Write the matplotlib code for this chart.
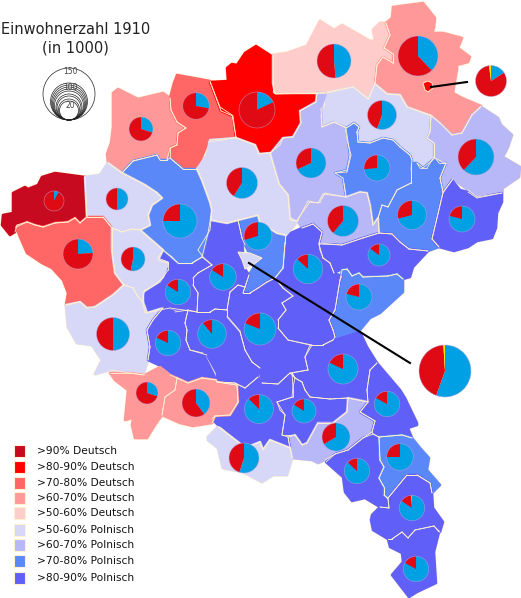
import matplotlib
matplotlib.use('Agg')
import matplotlib.pyplot as plt
from matplotlib.path import Path
from matplotlib.patches import Polygon, Circle, Rectangle

# map colours, one per share class
C90D = '#c80a20'
C80D = '#ff0000'
C70D = '#ff6666'
C60D = '#ff9999'
C50D = '#ffcccc'
C50P = '#d7d7f7'
C60P = '#b8b8f8'
C70P = '#5b88f8'
C80P = '#6060f8'

# district outlines, in picture pixels
regions = [
    (C60D, [(113,93),(118,89),(138,99),(163,93),(170,98),(171,110),(177,122),(186,128),(178,133),(177,145),(170,148),(167,160),(160,160),(157,155),(133,161),(122,173),(108,163),(107,154),(111,143),(113,127)]),
    (C70D, [(177,75),(210,81),(220,107),(232,115),(236,137),(223,140),(208,142),(197,169),(183,169),(170,158),(170,148),(177,145),(178,133),(186,128),(177,122),(171,110),(170,98),(174,83)]),
    (C80D, [(210,82),(228,81),(227,68),(232,64),(237,65),(245,53),(256,46),(273,57),(273,80),(273,92),(276,94),(317,93),(316,102),(300,111),(301,123),(293,137),(283,138),(280,145),(270,153),(259,154),(255,145),(236,138),(233,116),(221,111)]),
    (C50D, [(273,55),(287,53),(307,46),(320,21),(334,30),(342,25),(370,41),(375,41),(373,30),(380,23),(386,23),(390,35),(384,48),(393,54),(393,63),(383,57),(377,65),(375,83),(369,99),(353,87),(327,92),(317,93),(275,93),(273,83)]),
    (C60D, [(393,7),(423,3),(435,18),(434,28),(432,33),(443,33),(462,38),(458,48),(470,57),(468,62),(457,65),(457,69),(453,93),(462,98),(481,106),(472,115),(462,133),(452,135),(440,123),(431,115),(407,107),(400,95),(387,94),(375,84),(377,65),(383,57),(393,63),(393,54),(384,48),(390,35),(386,23),(392,18)]),
    (C50P, [(327,93),(353,87),(368,99),(375,84),(387,94),(400,95),(407,107),(431,116),(430,132),(427,138),(434,143),(434,157),(427,168),(420,168),(417,163),(412,160),(410,155),(400,147),(393,140),(383,138),(370,143),(358,142),(357,132),(359,127),(354,123),(346,128),(335,122),(322,127),(321,115),(326,105)]),
    (C60P, [(431,116),(440,123),(452,135),(462,133),(472,115),(481,107),(498,118),(501,125),(512,135),(508,147),(503,157),(520,167),(519,177),(503,188),(502,193),(477,197),(468,190),(453,179),(443,192),(440,178),(446,163),(442,162),(434,157),(434,143),(427,138),(430,132)]),
    (C60P, [(317,93),(326,93),(321,108),(322,127),(333,122),(345,127),(347,140),(351,155),(347,172),(335,173),(344,183),(346,197),(323,194),(318,203),(308,201),(298,220),(290,220),(288,195),(279,184),(270,154),(283,138),(293,137),(301,123),(300,111),(316,102)]),
    (C70P, [(346,128),(354,123),(359,127),(357,132),(358,142),(370,143),(383,138),(393,140),(400,147),(410,155),(412,160),(411,170),(411,183),(397,190),(388,207),(382,205),(378,218),(373,225),(370,205),(367,193),(360,192),(346,197),(343,178),(335,173),(347,170),(350,155)]),
    (C70P, [(411,163),(417,163),(423,168),(435,158),(439,163),(446,163),(440,178),(443,192),(432,239),(439,247),(428,251),(409,249),(400,242),(392,234),(379,233),(378,218),(382,205),(388,207),(397,190),(411,183)]),
    (C80P, [(452,180),(460,190),(468,192),(477,198),(502,193),(502,202),(497,213),(496,228),(492,238),(477,241),(468,247),(454,251),(439,247),(432,239),(443,193)]),
    (C60P, [(297,220),(310,202),(320,202),(325,193),(335,195),(346,197),(360,192),(367,193),(370,205),(373,225),(378,218),(379,233),(363,238),(342,245),(319,243),(322,232),(313,224),(302,228)]),
    (C80P, [(319,244),(342,245),(363,238),(379,233),(392,234),(400,242),(409,249),(428,251),(413,267),(410,277),(403,279),(397,274),(388,276),(363,277),(359,273),(352,276),(347,269),(342,269),(334,273),(330,263),(323,258),(320,250)]),
    (C70P, [(342,270),(347,269),(352,276),(359,273),(363,277),(388,276),(397,274),(403,279),(403,292),(392,302),(380,313),(370,318),(360,330),(335,337),(333,330),(329,320),(335,310),(340,280)]),
    (C80P, [(286,235),(302,228),(313,224),(322,232),(319,244),(323,258),(330,263),(334,273),(342,276),(340,280),(335,310),(329,320),(333,330),(335,337),(333,340),(323,345),(310,345),(288,340),(278,328),(278,320),(286,310),(282,303),(293,296),(283,288),(275,278),(283,268),(285,243)]),
    (C70P, [(238,220),(258,215),(260,222),(277,233),(285,235),(285,243),(283,268),(275,278),(267,282),(258,288),(250,293),(243,293),(245,287),(249,275),(255,265),(245,245),(242,238)]),
    (C80P, [(211,220),(227,223),(238,220),(242,238),(243,252),(245,269),(249,275),(245,287),(238,285),(230,292),(227,310),(215,309),(210,312),(197,312),(198,293),(193,285),(193,278),(198,273),(212,265),(203,257),(198,250),(210,230)]),
    (C80P, [(163,250),(172,257),(178,263),(192,263),(202,257),(212,265),(198,273),(193,278),(193,285),(198,293),(197,312),(170,308),(160,310),(145,313),(142,300),(145,290),(160,282),(168,270),(168,262),(158,258)]),
    (C70P, [(122,173),(133,161),(157,155),(160,160),(167,160),(170,158),(183,169),(197,169),(202,180),(210,202),(212,210),(208,233),(202,257),(192,263),(178,263),(163,250),(140,230),(150,225),(148,215),(152,205),(162,198),(157,193),(145,185)]),
    (C50P, [(197,169),(207,155),(210,140),(236,138),(255,145),(259,154),(270,153),(279,184),(288,195),(290,218),(297,222),(286,235),(277,233),(260,222),(258,215),(238,220),(227,223),(211,220),(212,210),(210,202),(202,180)]),
    (C90D, [(2,225),(3,215),(13,213),(13,193),(25,187),(28,189),(38,185),(42,177),(55,173),(85,177),(87,217),(80,223),(75,218),(68,222),(55,223),(43,227),(35,225),(27,222),(17,225),(15,232),(10,235)]),
    (C50P, [(85,177),(100,175),(108,163),(122,173),(145,185),(157,193),(162,198),(152,205),(148,215),(150,225),(140,230),(132,229),(122,232),(112,228),(103,217),(87,217)]),
    (C70D, [(16,227),(27,222),(35,225),(43,227),(55,223),(68,222),(75,218),(80,223),(87,217),(103,217),(112,228),(112,250),(115,273),(124,285),(113,295),(95,307),(87,308),(80,302),(66,305),(68,293),(63,280),(52,268),(42,263),(27,253),(20,237)]),
    (C50P, [(112,228),(122,232),(132,229),(140,230),(163,250),(158,260),(168,263),(163,277),(157,283),(143,292),(143,302),(138,297),(133,288),(124,285),(115,273),(112,250)]),
    (C50P, [(66,305),(80,302),(87,308),(95,307),(113,295),(124,285),(133,288),(138,297),(143,302),(147,313),(163,308),(153,320),(147,330),(150,347),(148,360),(143,375),(110,370),(95,374),(102,360),(92,345),(77,343),(68,327)]),
    (C80P, [(163,308),(175,312),(188,310),(185,323),(187,330),(186,340),(190,350),(203,353),(213,373),(216,380),(202,378),(188,383),(177,378),(165,368),(148,360),(150,347),(147,330),(153,320)]),
    (C80P, [(188,310),(197,312),(210,312),(215,309),(227,310),(227,316),(240,331),(245,350),(252,362),(260,368),(258,377),(245,388),(235,383),(217,382),(217,373),(207,355),(190,350),(186,340),(187,330),(185,323)]),
    (C80P, [(230,292),(238,285),(245,287),(243,293),(250,293),(258,288),(267,282),(275,278),(283,288),(293,296),(282,303),(286,310),(278,320),(278,328),(288,340),(312,345),(305,357),(308,370),(290,373),(278,384),(262,383),(260,368),(252,362),(245,350),(240,332),(227,317),(227,310)]),
    (C80P, [(310,345),(323,345),(333,340),(360,332),(367,347),(377,363),(370,370),(367,390),(368,402),(348,398),(330,399),(310,397),(305,390),(302,382),(295,378),(292,373),(308,370),(305,357)]),
    (C80P, [(292,373),(295,378),(302,382),(305,390),(310,397),(330,399),(348,398),(347,412),(333,423),(318,423),(307,443),(302,445),(295,435),(288,435),(282,435),(285,415),(280,410),(277,402),(292,397),(293,387)]),
    (C60P, [(348,398),(368,402),(360,412),(375,421),(372,432),(363,438),(348,450),(335,454),(325,460),(318,463),(312,460),(292,458),(288,437),(295,435),(302,445),(307,443),(318,423),(333,423),(347,412)]),
    (C80P, [(217,382),(235,383),(245,388),(258,377),(262,383),(278,384),(290,373),(295,378),(293,387),(293,397),(277,402),(285,415),(282,435),(288,437),(290,448),(270,440),(263,450),(260,442),(245,448),(238,442),(220,427),(212,419),(215,416),(230,415),(238,402),(237,385)]),
    (C60D, [(177,378),(188,383),(202,378),(216,380),(217,382),(237,385),(238,402),(230,415),(215,416),(212,423),(193,426),(180,423),(162,415),(165,397),(175,390)]),
    (C60D, [(110,373),(130,373),(145,375),(160,367),(170,375),(177,378),(175,390),(165,397),(162,415),(155,425),(147,438),(135,438),(132,425),(133,418),(125,420),(128,390),(115,380)]),
    (C50P, [(208,437),(218,427),(238,442),(245,448),(260,442),(263,450),(270,440),(290,448),(292,458),(287,475),(273,475),(262,482),(243,472),(223,468),(218,448),(208,440)]),
    (C80P, [(326,462),(335,454),(348,450),(363,438),(373,434),(379,437),(380,460),(384,467),(379,478),(384,487),(384,495),(388,499),(389,508),(380,507),(365,498),(352,501),(345,492),(343,477)]),
    (C80P, [(377,363),(400,390),(405,398),(417,423),(417,425),(408,428),(412,438),(402,435),(379,437),(373,434),(372,432),(375,421),(360,412),(368,402),(367,390),(370,370)]),
    (C70P, [(379,437),(402,435),(412,438),(420,448),(429,458),(427,470),(440,485),(432,493),(430,483),(417,475),(407,475),(388,498),(384,495),(384,487),(379,478),(384,467),(380,460)]),
    (C80P, [(407,475),(417,475),(430,483),(432,493),(433,508),(443,522),(440,532),(434,526),(415,530),(408,538),(402,532),(392,539),(388,539),(373,530),(371,520),(372,515),(380,507),(389,508),(388,498)]),
    (C80P, [(392,539),(402,532),(408,538),(415,530),(434,526),(439,532),(434,552),(436,583),(417,592),(409,597),(392,575),(403,562),(402,553),(390,547),(388,539)]),
]

# small pieces sitting on top of larger districts
enclaves = [
    (C50P, [(238,252),(250,253),(262,258),(253,265),(245,269),(242,260)]),
    (C80D, [(423,83),(428,81),(432,83),(433,88),(428,92),(425,90)]),
]

# pies: centre, size, then percent Polish and percent other
pie_x = [141,196,257,334,418,491,382,311,377,476,242,54,117,180,78,133,113,178,223,168,212,260,258,308,343,412,462,379,359,445,343,304,259,336,387,400,357,412,416,147,196,244]
pie_y = [129,106,110,61,56,81,115,163,168,157,183,201,199,221,254,259,334,292,277,343,334,329,236,269,221,215,219,255,297,371,369,411,409,437,404,457,471,508,569,393,403,458]
pie_r = [12,13.3,18,17,20,15.5,14.5,15,13,18,15.5,10,11,17,15,12,16.5,12.7,13.3,12.7,14.3,16,14,14.7,15.5,14.5,13,11,13,26,15,12,14.5,14,12.7,13.3,12.7,12.7,12.7,11,14,15]
pie_polish = [30,28,18,48.5,38,16,55.5,68,73.5,62,59,8,50,75,24,53,50,84,84,82,89,81,70.5,87,61,71,79,85,79,55.5,82,84,87.5,66.5,83,75,87,84.5,83,30,40,55]
pie_other = [0,0,0,0,0,2,0,0,0,0,0,0,0,0,0,0,0,0,0,0,0,0,0,0,0,0,0,0,0,1,0,0,0,0,0,0,0,1,0,0,0,0]

legend_labels = ['>90% Deutsch', '>80-90% Deutsch', '>70-80% Deutsch', '>60-70% Deutsch', '>50-60% Deutsch',
                 '>50-60% Polnisch', '>60-70% Polnisch', '>70-80% Polnisch', '>80-90% Polnisch']
legend_colors = [C90D, C80D, C70D, C60D, C50D, C50P, C60P, C70P, C80P]
legend_y = [451, 467, 483, 498, 513, 530, 545, 561, 578]

size_values = [150, 100, 90, 80, 70, 60, 50, 40, 30, 20]
size_radii = [26, 18.5, 17.5, 16.5, 15.5, 14.5, 13, 12, 10.5, 9.5]

BLUE = '#00a0e4'
RED = '#e00a14'
YELLOW = '#ffee00'
EDGE = '#fff0d0'


def shared_segments(outline, others):
    # a border is drawn only where another district lies next to it, not on the coast
    segments = []
    for i, a in enumerate(outline):
        b = outline[(i + 1) % len(outline)]
        mid = ((a[0] + b[0]) / 2, (a[1] + b[1]) / 2)
        if any(path.contains_point(mid, radius=3) for path in others):
            segments.append((a, b))
    return segments


fig = plt.figure(figsize=(5.21, 5.98), dpi=100)
ax = fig.add_axes([0, 0, 1, 1])

paths = [Path(outline + [outline[0]]) for color, outline in regions]

# cream halo for the coast, then each district slightly fattened to close slivers
for color, outline in regions:
    ax.add_patch(Polygon(outline, closed=True, facecolor=EDGE, edgecolor=EDGE, linewidth=2.6, joinstyle='round'))
for color, outline in regions:
    ax.add_patch(Polygon(outline, closed=True, facecolor=color, edgecolor=color, linewidth=1.8, joinstyle='round'))
for i, (color, outline) in enumerate(regions):
    for a, b in shared_segments(outline, paths[:i] + paths[i + 1:]):
        ax.plot([a[0], b[0]], [a[1], b[1]], color=EDGE, linewidth=0.6, solid_capstyle='round', zorder=1.5)
for color, outline in enclaves:
    ax.add_patch(Polygon(outline, closed=True, facecolor=color, edgecolor=EDGE, linewidth=0.7, zorder=1.6))

# inverted y axis, so this runs clockwise from twelve o'clock on screen
for x, y, r, polish, other in zip(pie_x, pie_y, pie_r, pie_polish, pie_other):
    ax.pie([polish, 100 - polish - other, other], colors=[BLUE, RED, YELLOW], center=(x, y), radius=r,
           startangle=-90, counterclock=True, wedgeprops={'linewidth': 0, 'zorder': 1.7})
    ax.add_patch(Circle((x, y), r, fill=False, edgecolor=(0.75, 0.65, 0.85, 0.6), linewidth=0.5, zorder=1.8))

# leader lines out to the two enlarged cities
ax.plot([249, 410], [263, 363], color='black', linewidth=1.5, zorder=3)
ax.plot([431, 467], [87, 82], color='black', linewidth=1.5, zorder=3)

ax.text(76, 30, 'Einwohnerzahl 1910', ha='center', va='center', fontsize=10.5, color='#222222')
ax.text(75, 48, '(in 1000)', ha='center', va='center', fontsize=10.5, color='#222222')

# size key, circles share one bottom point
for value, r in zip(size_values, size_radii):
    ax.add_patch(Circle((69, 120 - r), r, fill=False, edgecolor='#222222', linewidth=0.5))
    if value in (150, 100, 20):
        ax.text(70, 120 - 2 * r + 4, str(value), ha='center', va='center', fontsize=5.5, color='#444444')

for label, color, y in zip(legend_labels, legend_colors, legend_y):
    ax.add_patch(Rectangle((13.5, y - 6), 11.5, 12, facecolor=color, edgecolor=EDGE, linewidth=0.8))
    ax.text(37, y, label, ha='left', va='center', fontsize=7.7, color='#111111')

ax.set_xlim(0, 521)
ax.set_ylim(598, 0)
ax.set_aspect('auto')
ax.axis('off')

plt.savefig('out.png', dpi=100)
